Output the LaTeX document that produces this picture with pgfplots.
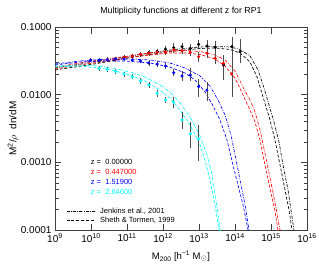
\documentclass[border=0pt]{standalone}
\usepackage{fontspec}
\setmainfont{Liberation Sans}
\usepackage{pgfplots}
\pgfplotsset{compat=1.18}
\definecolor{cy}{rgb}{0,1,1}
\definecolor{bl}{rgb}{0,0,1}
\definecolor{rd}{rgb}{1,0,0}
\tikzset{
  jdd/.style={line width=0.65pt, dash pattern=on 3pt off 1.3pt on 0.8pt off 1.3pt},
  std/.style={line width=0.65pt, dash pattern=on 3pt off 1.8pt},
}
\begin{document}
\begin{tikzpicture}[x=1pt,y=1pt]
\path[use as bounding box] (-55,-36) rectangle (264,230);
\begin{axis}[
  at={(0,0)}, anchor=south west,
  scale only axis, width=252pt, height=203pt,
  xmode=log, ymode=log,
  xmin=1e9, xmax=1e16, ymin=1e-4, ymax=0.1,
  xtick={1e9,1e10,1e11,1e12,1e13,1e14,1e15,1e16},
  xticklabels={10\textsuperscript{9},10\textsuperscript{10},10\textsuperscript{11},10\textsuperscript{12},10\textsuperscript{13},10\textsuperscript{14},10\textsuperscript{15},10\textsuperscript{16}},
  xminorticks=false,
  ytick={1e-4,1e-3,1e-2,1e-1},
  yticklabels={0.0001,0.0010,0.0100,0.1000},
  tick align=inside,
  major tick length=6.5pt, minor tick length=3.5pt,
  tick style={black!75, line width=0.4pt},
  axis line style={black!75, line width=0.5pt},
  ticklabel style={font=\fontsize{10}{11}\selectfont},
  title={Multiplicity functions at different z for RP1},
  title style={font=\fontsize{8.8}{10}\selectfont, at={(axis description cs:0.5,1)}, anchor=south, yshift=2pt},
  xlabel={M\textsubscript{200} [h\textsuperscript{−1} M$_\odot$]},
  xlabel style={font=\fontsize{9.5}{10}\selectfont, at={(axis description cs:0.5,0)}, anchor=center, yshift=-26.5pt},
  ylabel={M\textsuperscript{2}/$\rho$\ \ dn/dM},
  ylabel style={font=\fontsize{10}{11}\selectfont, at={([xshift=-42pt]axis description cs:0,0.5)}, anchor=center},
  clip=true,
]
% ---- Jenkins (dash-dot) and Sheth & Tormen (dashed) curves ----
\addplot[black, jdd, forget plot] coordinates {
(1e9,0.0248) (3.59e9,0.0275) (1.78e10,0.0315) (8.80e10,0.0361) (4.35e11,0.0413) (2.15e12,0.0466) (1.07e13,0.0507) (2.78e13,0.0515) (7.26e13,0.0507) (1.38e14,0.0466) (2.61e14,0.0373) (4.35e14,0.0232) (6.39e14,0.0126) (8.80e14,0.00705) (1.21e15,0.00395) (1.67e15,0.00200) (2.15e15,0.000916) (2.97e15,0.000391) (3.59e15,0.000198) (4.35e15,1e-4) (4.6e15,8e-5)};
\addplot[black, std, forget plot] coordinates {
(1e9,0.0232) (3.59e9,0.0256) (1.78e10,0.0294) (8.80e10,0.0343) (4.35e11,0.0393) (2.15e12,0.0442) (1.07e13,0.0481) (2.78e13,0.0490) (7.26e13,0.0466) (1.38e14,0.0413) (2.61e14,0.0304) (4.08e14,0.0183) (6.00e14,0.00925) (9.38e14,0.00423) (1.29e15,0.00214) (1.78e15,0.000916) (2.45e15,0.000391) (3.16e15,0.000198) (3.83e15,1e-4) (4.05e15,8e-5)};
\addplot[rd, jdd, forget plot] coordinates {
(1e9,0.0256) (4.95e9,0.0294) (1.78e10,0.0326) (8.80e10,0.0367) (4.35e11,0.0413) (1.56e12,0.0442) (4.08e12,0.0450) (1.07e13,0.0435) (2.78e13,0.0386) (5.27e13,0.0326) (1.0e14,0.0224) (1.90e14,0.0113) (2.61e14,0.00836) (3.59e14,0.00555) (4.95e14,0.00301) (7.26e14,0.00116) (1.07e15,0.000419) (1.38e15,0.000212) (1.78e15,1e-4) (1.88e15,8e-5)};
\addplot[rd, std, forget plot] coordinates {
(1e9,0.0240) (4.95e9,0.0275) (1.78e10,0.0304) (8.80e10,0.0348) (4.35e11,0.0386) (1.56e12,0.0413) (4.08e12,0.0413) (1.07e13,0.0393) (2.78e13,0.0337) (5.27e13,0.0265) (1.0e14,0.0177) (1.67e14,0.00991) (2.61e14,0.00594) (3.59e14,0.00395) (4.95e14,0.00214) (6.81e14,0.000916) (1.0e15,0.000353) (1.29e15,0.000191) (1.56e15,1e-4) (1.65e15,8e-5)};
\addplot[bl, jdd, forget plot] coordinates {
(1e9,0.0284) (4.95e9,0.0315) (1.78e10,0.0331) (8.80e10,0.0337) (4.35e11,0.0326) (1.56e12,0.0294) (4.08e12,0.0248) (1.07e13,0.0189) (2.02e13,0.0134) (3.37e13,0.00836) (5.27e13,0.00501) (7.74e13,0.00254) (1.07e14,0.00108) (1.47e14,0.000464) (1.90e14,0.000235) (2.45e14,1e-4) (2.6e14,8e-5)};
\addplot[bl, std, forget plot] coordinates {
(1e9,0.0275) (4.95e9,0.0304) (1.78e10,0.0315) (8.80e10,0.0315) (4.35e11,0.0294) (1.56e12,0.0256) (4.08e12,0.0209) (7.74e12,0.0165) (1.47e13,0.0110) (2.30e13,0.00729) (3.83e13,0.00423) (6.00e13,0.00214) (8.80e13,0.000916) (1.21e14,0.000464) (1.67e14,0.000235) (2.30e14,1e-4) (2.45e14,8e-5)};
\addplot[cy, jdd, forget plot] coordinates {
(1e9,0.0265) (4.95e9,0.0275) (1.78e10,0.0265) (4.64e10,0.0244) (1.21e11,0.0216) (3.16e11,0.0183) (8.25e11,0.0139) (1.56e12,0.0110) (2.97e12,0.00754) (5.62e12,0.00469) (1.07e13,0.00245) (1.67e13,0.00129) (2.30e13,0.000652) (2.97e13,0.000279) (3.83e13,1e-4) (4.05e13,8e-5)};
\addplot[cy, std, forget plot] coordinates {
(1e9,0.0256) (4.95e9,0.0265) (1.78e10,0.0248) (4.64e10,0.0224) (1.21e11,0.0195) (3.16e11,0.0159) (8.25e11,0.0117) (1.56e12,0.00894) (2.97e12,0.00594) (5.62e12,0.00357) (1.07e13,0.00181) (1.47e13,0.00108) (2.02e13,0.000550) (2.78e13,0.000235) (3.59e13,1e-4) (3.8e13,8e-5)};
% ---- simulation points ----
\pgfplotsset{ptstyle/.style={only marks, mark=*, mark size=1.35pt, forget plot,
  error bars/.cd, y dir=both, y explicit,
  error bar style={black!70, line width=0.55pt},
  error mark options={black!70, mark size=1.6pt, line width=0.55pt}}}
\addplot[black, mark options={black}, ptstyle] coordinates {
(1.67e10,0.0315) += (0,0.0008) -= (0,0.0008)
(2.84e10,0.0326) += (0,0.0008) -= (0,0.0008)
(4.83e10,0.0337) += (0,0.0008) -= (0,0.0008)
(8.21e10,0.0354) += (0,0.0009) -= (0,0.0009)
(1.40e11,0.0373) += (0,0.0010) -= (0,0.0010)
(2.38e11,0.0393) += (0,0.0012) -= (0,0.0012)
(4.04e11,0.0417) += (0,0.0014) -= (0,0.0014)
(6.87e11,0.0435) += (0,0.0018) -= (0,0.0018)
(1.17e12,0.0469) += (0,0.0033) -= (0,0.0031)
(1.99e12,0.0494) += (0,0.0053) -= (0,0.0048)
(3.38e12,0.0512) += (0,0.0030) -= (0,0.0043)
(5.74e12,0.0484) += (0,0.0040) -= (0,0.0037)
(9.77e12,0.0555) += (0,0.0052) -= (0,0.0054)
(1.66e13,0.0524) += (0,0.0083) -= (0,0.0077)
(2.82e13,0.0501) += (0,0.0085) -= (0,0.0078)
(4.81e13,0.0275) += (0,0.0089) -= (0,0.0100)
(8.17e13,0.0512) += (0,0.0169) -= (0,0.0215)
(1.39e14,0.0433) += (0,0.0188) -= (0,0.0126)
};
\addplot[rd, mark options={rd}, ptstyle] coordinates {
(2.84e10,0.0326) += (0,0.0008) -= (0,0.0008)
(4.83e10,0.0333) += (0,0.0008) -= (0,0.0008)
(8.21e10,0.0357) += (0,0.0009) -= (0,0.0009)
(1.40e11,0.0373) += (0,0.0010) -= (0,0.0010)
(2.38e11,0.0395) += (0,0.0012) -= (0,0.0012)
(4.04e11,0.0409) += (0,0.0014) -= (0,0.0014)
(6.87e11,0.0423) += (0,0.0016) -= (0,0.0016)
(1.17e12,0.0423) += (0,0.0018) -= (0,0.0018)
(1.99e12,0.0457) += (0,0.0020) -= (0,0.0020)
(3.38e12,0.0445) += (0,0.0022) -= (0,0.0022)
(5.74e12,0.0423) += (0,0.0025) -= (0,0.0025)
(9.77e12,0.0364) += (0,0.0045) -= (0,0.0038)
(1.66e13,0.0409) += (0,0.0044) -= (0,0.0040)
(2.82e13,0.0345) += (0,0.0041) -= (0,0.0048)
(4.81e13,0.0291) += (0,0.0057) -= (0,0.0043)
(8.17e13,0.0202) += (0,0.0082) -= (0,0.0103)
};
\addplot[bl, mark options={bl}, ptstyle] coordinates {
(9.82e9,0.0326) += (0,0.0008) -= (0,0.0008)
(1.67e10,0.0322) += (0,0.0008) -= (0,0.0008)
(2.84e10,0.0329) += (0,0.0008) -= (0,0.0008)
(4.83e10,0.0337) += (0,0.0008) -= (0,0.0008)
(8.21e10,0.0337) += (0,0.0009) -= (0,0.0009)
(1.40e11,0.0326) += (0,0.0009) -= (0,0.0009)
(2.38e11,0.0315) += (0,0.0009) -= (0,0.0009)
(4.04e11,0.0294) += (0,0.0010) -= (0,0.0010)
(6.87e11,0.0284) += (0,0.0011) -= (0,0.0011)
(1.17e12,0.0265) += (0,0.0012) -= (0,0.0012)
(1.99e12,0.0211) += (0,0.0015) -= (0,0.0014)
(3.38e12,0.0189) += (0,0.0020) -= (0,0.0018)
(5.74e12,0.0195) += (0,0.0037) -= (0,0.0026)
(9.77e12,0.0132) += (0,0.0029) -= (0,0.0033)
(1.66e13,0.0117) += (0,0.0027) -= (0,0.0033)
};
\addplot[cy, mark options={cy}, ptstyle] coordinates {
(1.67e10,0.0245) += (0,0.0006) -= (0,0.0006)
(2.84e10,0.0236) += (0,0.0006) -= (0,0.0006)
(4.83e10,0.0220) += (0,0.0006) -= (0,0.0006)
(8.21e10,0.0202) += (0,0.0006) -= (0,0.0006)
(1.40e11,0.0183) += (0,0.0006) -= (0,0.0006)
(2.38e11,0.0159) += (0,0.0006) -= (0,0.0006)
(4.04e11,0.0139) += (0,0.0006) -= (0,0.0006)
(6.87e11,0.0105) += (0,0.0006) -= (0,0.0006)
(1.17e12,0.00836) += (0,0.0005) -= (0,0.0005)
(1.99e12,0.00773) += (0,0.0011) -= (0,0.0011)
(3.38e12,0.00423) += (0,0.0011) -= (0,0.0010)
(5.74e12,0.00263) += (0,0.0011) -= (0,0.0009)
(9.77e12,0.00222) += (0,0.0012) -= (0,0.0011)
};
% ---- legends ----
\begin{scope}[font=\fontsize{7.5}{9}\selectfont]
\node[anchor=west, inner sep=0, text=black] at (rel axis cs:0.1417,0.3335) {z =\ \ 0.00000};
\node[anchor=west, inner sep=0, text=rd] at (rel axis cs:0.1417,0.2842) {z =\ \ 0.447000};
\node[anchor=west, inner sep=0, text=bl] at (rel axis cs:0.1417,0.2350) {z =\ \ 1.51900};
\node[anchor=west, inner sep=0, text=cy] at (rel axis cs:0.1417,0.1857) {z =\ \ 2.64600};
\draw[black, jdd] (rel axis cs:0.0464,0.090) -- (rel axis cs:0.159,0.090);
\draw[black, std] (rel axis cs:0.0464,0.049) -- (rel axis cs:0.159,0.049);
\node[anchor=west, inner sep=0] at (rel axis cs:0.1786,0.090) {Jenkins et al., 2001};
\node[anchor=west, inner sep=0] at (rel axis cs:0.1786,0.049) {Sheth \& Tormen, 1999};
\end{scope}
\end{axis}
\end{tikzpicture}
\end{document}
